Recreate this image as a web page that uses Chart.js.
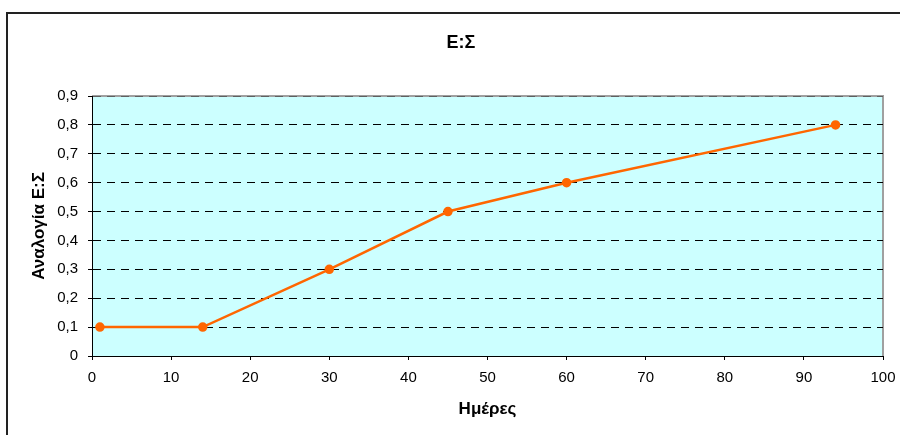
<!DOCTYPE html>
<html>
<head>
<meta charset="utf-8">
<script src="https://cdn.jsdelivr.net/npm/chart.js@4.4.1/dist/chart.umd.min.js"></script>
<style>
  html, body { margin: 0; padding: 0; background: #fff; }
  #wrap { position: relative; width: 900px; height: 435px; }
  canvas { display: block; }
</style>
</head>
<body>
<div id="wrap"><canvas id="c" width="900" height="435"></canvas></div>
<script>
const days = [1, 14, 30, 45, 60, 94];
const ratio = [0.1, 0.1, 0.3, 0.5, 0.6, 0.8];
const yTickLabels = ['0', '0,1', '0,2', '0,3', '0,4', '0,5', '0,6', '0,7', '0,8', '0,9'];
const xTickLabels = ['0', '10', '20', '30', '40', '50', '60', '70', '80', '90', '100'];
const chartTitle = 'Ε:Σ';
const xTitle = 'Ημέρες';
const yTitle = 'Αναλογία Ε:Σ';

const FONT = "'Liberation Sans', Arial, sans-serif";

const framePlugin = {
  id: 'frame',
  beforeDraw(chart) {
    const ctx = chart.ctx;
    const a = chart.chartArea;
    ctx.save();
    ctx.fillStyle = '#fff';
    ctx.fillRect(0, 0, chart.width, chart.height);
    // outer frame
    ctx.strokeStyle = '#222';
    ctx.lineWidth = 2;
    ctx.strokeRect(7, 13, 1200, 1200);
    // plot area
    ctx.fillStyle = '#CCFFFF';
    ctx.fillRect(a.left, a.top, a.right - a.left, a.bottom - a.top);
    ctx.strokeStyle = '#A0A0A0';
    ctx.lineWidth = 2;
    ctx.beginPath();
    ctx.moveTo(a.left, a.top);
    ctx.lineTo(a.right, a.top);
    ctx.lineTo(a.right, a.bottom);
    ctx.stroke();
    // title
    ctx.fillStyle = '#000';
    ctx.font = "bold 18px " + FONT;
    ctx.textAlign = 'center';
    ctx.textBaseline = 'middle';
    ctx.fillText(chartTitle, 461, 43);
    ctx.restore();
  }
};

new Chart(document.getElementById('c'), {
  type: 'line',
  data: {
    datasets: [{
      data: days.map((d, i) => ({ x: d, y: ratio[i] })),
      borderColor: '#FF6600',
      backgroundColor: '#FF6600',
      borderWidth: 2.5,
      pointRadius: 3.5,
      pointHoverRadius: 3.5,
      pointBackgroundColor: '#FF6600',
      pointBorderColor: '#FF6600',
      tension: 0,
      clip: false
    }]
  },
  options: {
    responsive: false,
    animation: false,
    events: [],
    layout: { padding: { top: 96, right: 17, left: 0, bottom: 0 } },
    plugins: { legend: { display: false }, title: { display: false }, tooltip: { enabled: false } },
    scales: {
      x: {
        type: 'linear',
        min: 0, max: 100,
        afterFit(s) { s.height = 79; s.paddingRight = 0; s.paddingLeft = 0; },
        ticks: {
          stepSize: 10,
          color: '#000',
          font: { family: FONT, size: 15 },
          padding: 9,
          maxRotation: 0,
          autoSkip: false,
          callback: (v, i) => xTickLabels[i]
        },
        grid: {
          drawOnChartArea: false,
          drawTicks: true,
          tickLength: 4,
          tickColor: '#000',
          tickWidth: 1
        },
        border: { color: '#000', width: 1 },
        title: {
          display: true,
          text: xTitle,
          color: '#000',
          font: { family: FONT, size: 17, weight: 'bold' },
          padding: { top: 0, bottom: 15 }
        }
      },
      y: {
        min: 0, max: 0.9,
        afterFit(s) { s.width = 92; s.paddingTop = 0; s.paddingBottom = 0; },
        ticks: {
          stepSize: 0.1,
          color: '#000',
          font: { family: FONT, size: 15 },
          padding: 10,
          autoSkip: false,
          callback: (v, i) => yTickLabels[i]
        },
        grid: {
          drawTicks: true,
          tickLength: 4,
          tickColor: '#000',
          tickWidth: 1,
          tickBorderDash: [],
          lineWidth: 1,
          color: (c) => {
            if (!c.tick) return '#000';
            if (c.tick.value === 0) return 'rgba(0,0,0,0)';
            if (Math.abs(c.tick.value - 0.9) < 1e-6) return '#606060';
            return '#000';
          }
        },
        border: { color: '#000', width: 1, dash: [8, 6] },
        title: {
          display: true,
          text: yTitle,
          color: '#000',
          font: { family: FONT, size: 17, weight: 'bold' },
          padding: { top: 29, bottom: 0 }
        }
      }
    }
  },
  plugins: [framePlugin]
});
</script>
</body>
</html>
